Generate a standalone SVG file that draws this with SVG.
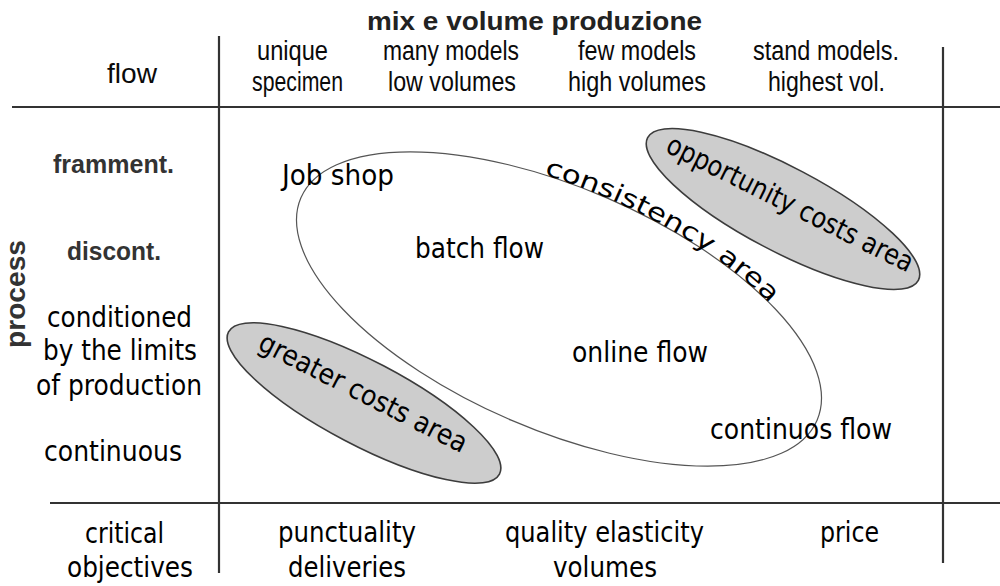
<svg xmlns="http://www.w3.org/2000/svg" width="1000" height="586" viewBox="0 0 1000 586">
<defs>
<style>
.bg{fill:#ffffff}
.grid line{stroke:#333;stroke-width:2.2;fill:none}
.hdr{font-family:"Liberation Sans",Arial,sans-serif;font-size:27px;fill:#0a0a0a}
.hb{font-family:"Liberation Sans",Arial,sans-serif;font-weight:bold;fill:#222}
.lbl{font-family:"DejaVu Sans",Verdana,sans-serif;font-size:28px;fill:#000}
.area{fill:#cdcdcd;stroke:#3c3c3c;stroke-width:1.6}
.cons{fill:none;stroke:#555;stroke-width:1.2}
</style>
</defs>
<rect class="bg" x="0" y="0" width="1000" height="586"/>
<g id="grid-lines" class="grid">
<line x1="12" y1="107" x2="1000" y2="107"/>
<line x1="50" y1="503" x2="1000" y2="503"/>
<line x1="219" y1="36" x2="219" y2="573"/>
<line x1="943" y1="47" x2="943" y2="563"/>
</g>
<g id="header">
<text class="hb" font-size="26" x="367" y="30" textLength="335" lengthAdjust="spacingAndGlyphs">mix e volume produzione</text>
<text class="hdr" x="107" y="83" textLength="50" lengthAdjust="spacingAndGlyphs">flow</text>
<text class="hdr" x="257" y="60" textLength="71" lengthAdjust="spacingAndGlyphs">unique</text>
<text class="hdr" x="252" y="91" textLength="91" lengthAdjust="spacingAndGlyphs">specimen</text>
<text class="hdr" x="383" y="60" textLength="136" lengthAdjust="spacingAndGlyphs">many models</text>
<text class="hdr" x="388" y="91" textLength="128" lengthAdjust="spacingAndGlyphs">low volumes</text>
<text class="hdr" x="578" y="60" textLength="118" lengthAdjust="spacingAndGlyphs">few models</text>
<text class="hdr" x="568" y="91" textLength="138" lengthAdjust="spacingAndGlyphs">high volumes</text>
<text class="hdr" x="753" y="60" textLength="146" lengthAdjust="spacingAndGlyphs">stand models.</text>
<text class="hdr" x="768" y="91" textLength="117" lengthAdjust="spacingAndGlyphs">highest vol.</text>
</g>
<g id="process-axis">
<text class="hb" font-size="28" style="fill:#333" transform="translate(25,294) rotate(-90)" text-anchor="middle" textLength="108" lengthAdjust="spacingAndGlyphs">process</text>
<text class="hb" font-size="25" x="53" y="173" style="fill:#333" textLength="121" lengthAdjust="spacingAndGlyphs">framment.</text>
<text class="hb" font-size="25" x="67" y="260" style="fill:#333" textLength="94" lengthAdjust="spacingAndGlyphs">discont.</text>
<text class="lbl" x="47" y="327" textLength="145" lengthAdjust="spacingAndGlyphs">conditioned</text>
<text class="lbl" x="43" y="360" textLength="154" lengthAdjust="spacingAndGlyphs">by the limits</text>
<text class="lbl" x="36" y="395" textLength="166" lengthAdjust="spacingAndGlyphs">of production</text>
<text class="lbl" x="44" y="461" textLength="138" lengthAdjust="spacingAndGlyphs">continuous</text>
</g>
<g id="consistency-area">
<g transform="translate(559,309) rotate(23.3)">
<ellipse class="cons" cx="0" cy="0" rx="281" ry="121"/>
<path id="consPath" d="M -86.8 -115.1 A 281 121 0 0 1 281 0" fill="none" stroke="none"/>
<text class="lbl" style="font-size:25px"><textPath href="#consPath" startOffset="20" textLength="262" lengthAdjust="spacingAndGlyphs">consistency area</textPath></text>
</g>
</g>
<g id="opportunity-costs-area">
<ellipse class="area" cx="0" cy="0" rx="153" ry="42" transform="translate(783,209) rotate(27.8)"/>
<text class="lbl" transform="translate(786,212) rotate(26.5)" text-anchor="middle" textLength="272" lengthAdjust="spacingAndGlyphs">opportunity costs area</text>
</g>
<g id="greater-costs-area">
<ellipse class="area" cx="0" cy="0" rx="153" ry="42" transform="translate(364,403) rotate(27.7)"/>
<text class="lbl" transform="translate(359,401) rotate(27)" text-anchor="middle" textLength="230" lengthAdjust="spacingAndGlyphs">greater costs area</text>
</g>
<g id="job-shop"><text class="lbl" x="282" y="185" textLength="112" lengthAdjust="spacingAndGlyphs">Job shop</text></g>
<g id="batch-flow"><text class="lbl" x="415" y="258" textLength="129" lengthAdjust="spacingAndGlyphs">batch flow</text></g>
<g id="online-flow"><text class="lbl" x="572" y="362" textLength="136" lengthAdjust="spacingAndGlyphs">online flow</text></g>
<g id="continuos-flow"><text class="lbl" x="710" y="439" textLength="182" lengthAdjust="spacingAndGlyphs">continuos flow</text></g>
<g id="critical-objectives">
<text class="lbl" x="85" y="543" textLength="79" lengthAdjust="spacingAndGlyphs">critical</text>
<text class="lbl" x="67" y="577" textLength="126" lengthAdjust="spacingAndGlyphs">objectives</text>
<text class="lbl" x="278" y="542" textLength="138" lengthAdjust="spacingAndGlyphs">punctuality</text>
<text class="lbl" x="288" y="577" textLength="118" lengthAdjust="spacingAndGlyphs">deliveries</text>
<text class="lbl" x="505" y="542" textLength="199" lengthAdjust="spacingAndGlyphs">quality elasticity</text>
<text class="lbl" x="553" y="577" textLength="104" lengthAdjust="spacingAndGlyphs">volumes</text>
<text class="lbl" x="820" y="542" textLength="59" lengthAdjust="spacingAndGlyphs">price</text>
</g>
</svg>
